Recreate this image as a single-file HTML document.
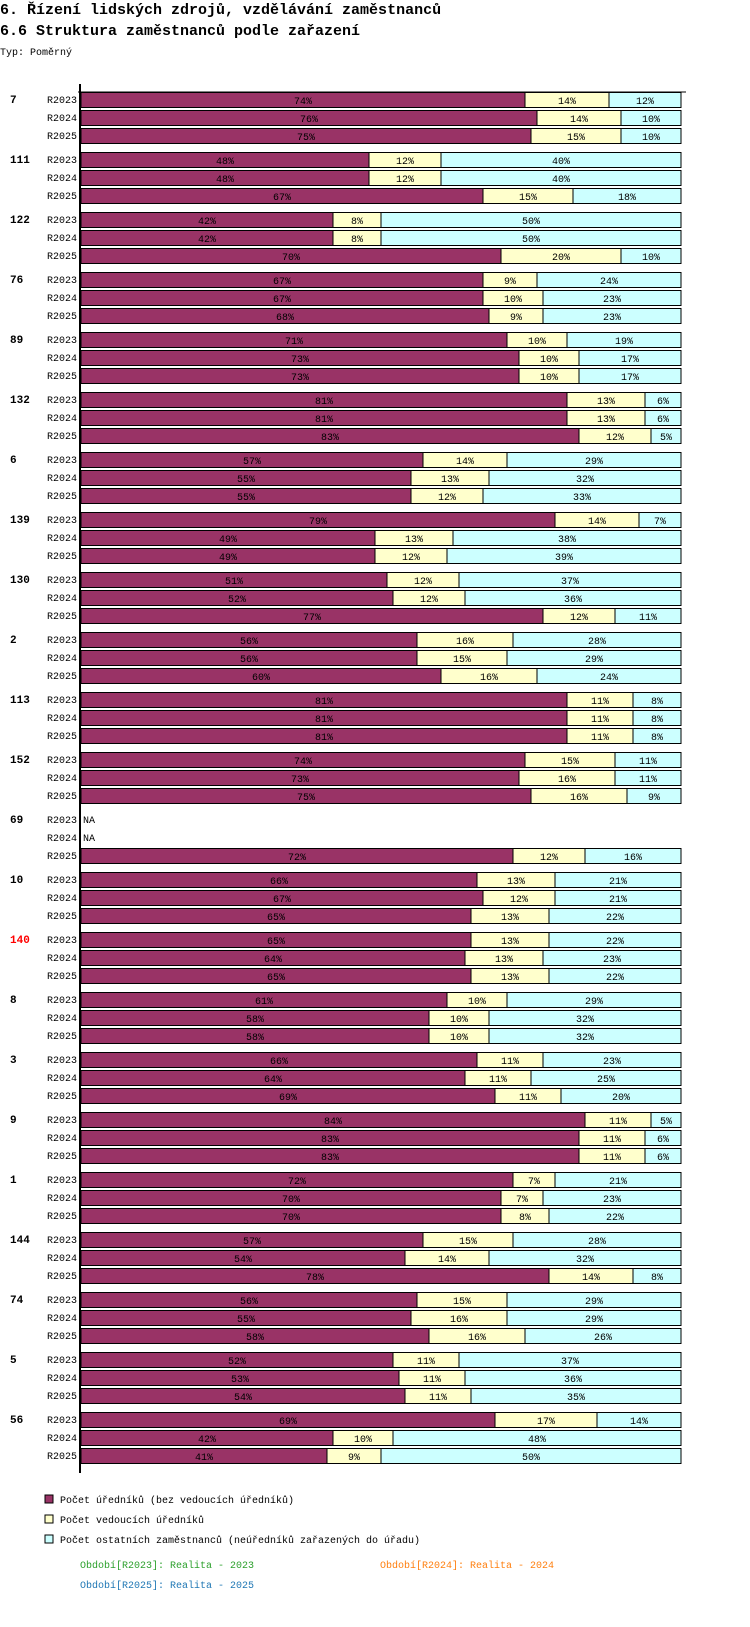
<!DOCTYPE html>
<html><head><meta charset="utf-8">
<style>
body{margin:0;background:#fff;width:750px;height:1622px;overflow:hidden;font-family:"Liberation Mono","DejaVu Sans Mono",monospace;}
svg text{font-family:"Liberation Mono","DejaVu Sans Mono",monospace;}
</style></head>
<body>
<svg id="chart" width="750" height="1622" xmlns="http://www.w3.org/2000/svg">
<text x="0" y="14" font-size="15" font-weight="bold">6. Řízení lidských zdrojů, vzdělávání zaměstnanců</text>
<text x="0" y="35" font-size="15" font-weight="bold">6.6 Struktura zaměstnanců podle zařazení</text>
<text x="0" y="55" font-size="10">Typ: Poměrný</text>
<g id="bars"></g>
<g id="legend">
<rect x="45" y="1495" width="8" height="8" fill="#993366" stroke="#000"/>
<text x="60" y="1503" font-size="10">Počet úředníků (bez vedoucích úředníků)</text>
<rect x="45" y="1515" width="8" height="8" fill="#FFFFCC" stroke="#000"/>
<text x="60" y="1523" font-size="10">Počet vedoucích úředníků</text>
<rect x="45" y="1535" width="8" height="8" fill="#CCFFFF" stroke="#000"/>
<text x="60" y="1543" font-size="10">Počet ostatních zaměstnanců (neúředníků zařazených do úřadu)</text>
<text x="80" y="1568" font-size="10" fill="#2ca02c">Období[R2023]: Realita - 2023</text>
<text x="380" y="1568" font-size="10" fill="#ff7f0e">Období[R2024]: Realita - 2024</text>
<text x="80" y="1588" font-size="10" fill="#1f77b4">Období[R2025]: Realita - 2025</text>
</g>
</svg>
<script>
const groups = ["7","111","122","76","89","132","6","139","130","2","113","152","69","10","140","8","3","9","1","144","74","5","56"];
const periods = ["R2023","R2024","R2025"];
const urednici = [
[74,76,75],[48,48,67],[42,42,70],[67,67,68],[71,73,73],[81,81,83],[57,55,55],[79,49,49],[51,52,77],[56,56,60],[81,81,81],[74,73,75],[null,null,72],[66,67,65],[65,64,65],[61,58,58],[66,64,69],[84,83,83],[72,70,70],[57,54,78],[56,55,58],[52,53,54],[69,42,41]];
const vedouci = [
[14,14,15],[12,12,15],[8,8,20],[9,10,9],[10,10,10],[13,13,12],[14,13,12],[14,13,12],[12,12,12],[16,15,16],[11,11,11],[15,16,16],[null,null,12],[13,12,13],[13,13,13],[10,10,10],[11,11,11],[11,11,11],[7,7,8],[15,14,14],[15,16,16],[11,11,11],[17,10,9]];
const ostatni = [
[12,10,10],[40,40,18],[50,50,10],[24,23,23],[19,17,17],[6,6,5],[29,32,33],[7,38,39],[37,36,11],[28,29,24],[8,8,8],[11,11,9],[null,null,16],[21,21,22],[22,23,22],[29,32,32],[23,25,20],[5,6,6],[21,23,22],[28,32,8],[29,29,26],[37,36,35],[14,48,50]];
const highlighted = ["140"];

const SVGNS="http://www.w3.org/2000/svg";
const barsG=document.getElementById('bars');
const X0=81, W=600, Y0=92, ROW=18, GAP=6, BH=15;
const xScale=v=>X0+v/100*W;
const yRow=(gi,ri)=>Y0+gi*(3*ROW+GAP)+ri*ROW;
function mk(tag,attrs){const e=document.createElementNS(SVGNS,tag);for(const k in attrs)e.setAttribute(k,attrs[k]);return e;}
const segColors=["#993366","#FFFFCC","#CCFFFF"];
const segNames=["urednici","vedouci","ostatni"];
const yEnd=yRow(groups.length-1,2)+BH+10;
const axisLine=mk('line',{x1:X0-1,x2:X0-1,y1:Y0-8,y2:yEnd,stroke:'#000','stroke-width':2});


barsG.appendChild(axisLine);
const topLine=mk('line',{x1:X0-3,x2:X0+W+5,y1:Y0,y2:Y0,stroke:'#000','stroke-width':1});


barsG.appendChild(topLine);
groups.forEach((name,gi)=>{
  const gl=mk('text',{x:10,y:yRow(gi,0)+11,'font-size':11,'font-weight':'bold',fill:highlighted.includes(name)?'#ff0000':'#000'});
  gl.textContent=name;
  
  
  barsG.appendChild(gl);
  periods.forEach((p,ri)=>{
    const y=yRow(gi,ri);
    const rl=mk('text',{x:77,y:y+11,'font-size':10,'text-anchor':'end'});
    rl.textContent=p;
    
    
    barsG.appendChild(rl);
    const vals=[urednici[gi][ri],vedouci[gi][ri],ostatni[gi][ri]];
    if(vals[0]===null){
      const na=mk('text',{x:X0+2,y:y+11,'font-size':10});
      na.textContent='NA';
      
      
      barsG.appendChild(na);
      return;
    }
    let acc=0;
    vals.forEach((v,si)=>{
      const x1=xScale(acc), x2=xScale(acc+v);
      const r=mk('rect',{x:x1,y:y+0.5,width:x2-x1,height:BH,fill:segColors[si],stroke:'#000','stroke-width':1});
      
      
      barsG.appendChild(r);
      const t=mk('text',{x:(x1+x2)/2,y:y+12,'font-size':10,'text-anchor':'middle'});
      t.textContent=v+'%';
      
      
      barsG.appendChild(t);
      acc+=v;
    });
  });
});
</script>
</body></html>
